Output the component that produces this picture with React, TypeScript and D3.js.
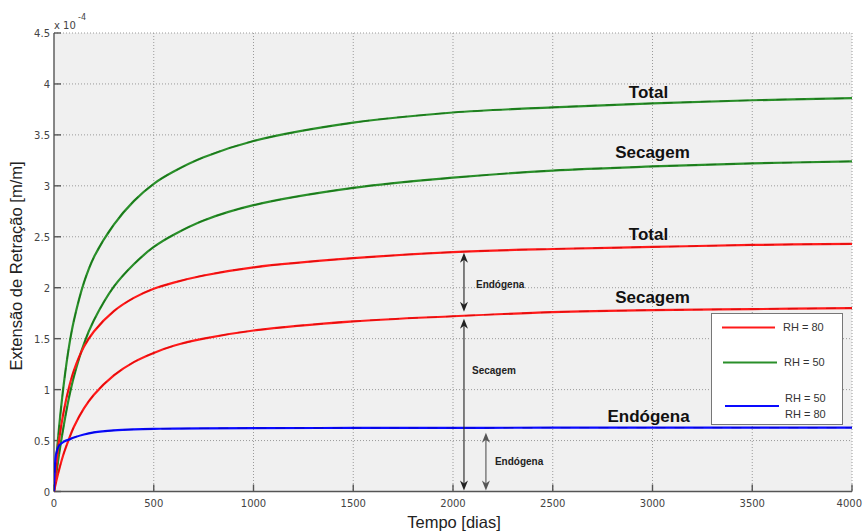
import React from "react";
import * as d3 from "d3";

// Shrinkage strain (×10⁻⁴ m/m) against time in days
const days = [0, 5, 10, 25, 50, 75, 100, 150, 200, 300, 400, 500, 600, 750, 1000, 1500, 2000, 2500, 3000, 3500, 4000];
const totalRH50 = [0, 0.15, 0.28, 0.62, 1.07, 1.42, 1.68, 2.05, 2.3, 2.62, 2.85, 3.02, 3.14, 3.28, 3.44, 3.62, 3.72, 3.77, 3.81, 3.84, 3.86];
const dryingRH50 = [0, 0.08, 0.15, 0.36, 0.66, 0.92, 1.13, 1.45, 1.68, 2.01, 2.23, 2.4, 2.52, 2.66, 2.81, 2.98, 3.08, 3.15, 3.19, 3.22, 3.24];
const totalRH80 = [0, 0.12, 0.22, 0.5, 0.8, 1.02, 1.19, 1.42, 1.57, 1.77, 1.9, 1.99, 2.05, 2.12, 2.2, 2.29, 2.35, 2.38, 2.4, 2.42, 2.43];
const dryingRH80 = [0, 0.045, 0.09, 0.21, 0.38, 0.515, 0.635, 0.815, 0.95, 1.14, 1.27, 1.36, 1.43, 1.5, 1.58, 1.67, 1.72, 1.76, 1.78, 1.79, 1.8];
const autogenous = [0, 0.26, 0.36, 0.45, 0.49, 0.51, 0.53, 0.56, 0.58, 0.6, 0.61, 0.615, 0.617, 0.62, 0.622, 0.624, 0.625, 0.626, 0.626, 0.627, 0.627];

const xTicks = [0, 500, 1000, 1500, 2000, 2500, 3000, 3500, 4000];
const yTicks = [0, 0.5, 1, 1.5, 2, 2.5, 3, 3.5, 4, 4.5];

const legendLabels = [["RH = 80"], ["RH = 50"], ["RH = 50", "RH = 80"]];

const W = 863;
const H = 531;
const RED = "#ff1a1a";
const RED_DARK = "#cc0000";
const GREEN = "#2a8f2a";
const GREEN_DARK = "#0b650b";
const BLUE = "#0a0aff";
const BLUE_DARK = "#0000c0";

const x = d3.scaleLinear().domain([0, 4000]).range([54, 852]);
const y = d3.scaleLinear().domain([0, 4.5]).range([491.5, 33]);

const line = d3
  .line<number>()
  .x((_, i) => x(days[i]))
  .y((v) => y(v))
  .curve(d3.curveCatmullRom.alpha(0.5));

const valueAt = (series: number[], day: number) => {
  const i = d3.bisectRight(days, day) - 1;
  if (i >= days.length - 1) return series[series.length - 1];
  const t = (day - days[i]) / (days[i + 1] - days[i]);
  return series[i] + t * (series[i + 1] - series[i]);
};

const series = [
  { values: totalRH50, color: GREEN, dark: GREEN_DARK },
  { values: dryingRH50, color: GREEN, dark: GREEN_DARK },
  { values: totalRH80, color: RED, dark: RED_DARK },
  { values: dryingRH80, color: RED, dark: RED_DARK },
  { values: autogenous, color: BLUE, dark: BLUE_DARK },
];

const curveLabels = [
  { text: "Total", values: totalRH50, day: 2980, dy: -5 },
  { text: "Secagem", values: dryingRH50, day: 3000, dy: -8 },
  { text: "Total", values: totalRH80, day: 2980, dy: -7 },
  { text: "Secagem", values: dryingRH80, day: 3000, dy: -7 },
  { text: "Endógena", values: autogenous, day: 2980, dy: -6 },
];

function Arrow({ x0, y0, y1, color }: { x0: number; y0: number; y1: number; color: string }) {
  const head = (tipY: number, dir: number) => {
    const len = 10;
    const hw = 4;
    const back = tipY + dir * len;
    const notch = tipY + dir * (len - 3);
    return `M${x0},${tipY} L${x0 - hw},${back} L${x0},${notch} L${x0 + hw},${back} Z`;
  };
  return (
    <g>
      <line x1={x0} x2={x0} y1={y0 + 4} y2={y1 - 4} stroke={color} strokeWidth={1.1} />
      <path d={head(y0, 1)} fill={color} />
      <path d={head(y1, -1)} fill={color} />
    </g>
  );
}

export default function App() {
  const [x0, x1] = x.range();
  const [yb, yt] = y.range();
  const arrowDay1 = 2055;
  const arrowDay2 = 2165;
  const yRedTotal = y(valueAt(totalRH80, arrowDay1));
  const yRedDry = y(valueAt(dryingRH80, arrowDay1));
  const yAuto = y(valueAt(autogenous, arrowDay2));

  return (
    <svg
      width={W}
      height={H}
      style={{ position: "absolute", left: 0, top: 0, background: "#fff" }}
      fontFamily="'Liberation Sans', Arial, sans-serif"
    >
      <defs>
        <clipPath id="plot">
          <rect x={x0} y={yt} width={x1 - x0} height={yb - yt} />
        </clipPath>
      </defs>
      <rect x={x0} y={yt} width={x1 - x0} height={yb - yt} fill="#f0f0f0" />

      {/* grid */}
      <g stroke="#9a9a9a" strokeWidth={1} strokeDasharray="1,2">
        {xTicks.filter((t) => t > 0).map((t) => (
          <line key={"gx" + t} x1={x(t)} x2={x(t)} y1={yt} y2={yb} />
        ))}
        {yTicks.filter((t) => t > 0).map((t) => (
          <line key={"gy" + t} x1={x0} x2={x1} y1={y(t)} y2={y(t)} />
        ))}
      </g>

      {/* axes */}
      <g stroke="#555" strokeWidth={1.4}>
        <line x1={x0} x2={x0} y1={yt} y2={yb} />
        <line x1={x0} x2={x1} y1={yb} y2={yb} />
        {xTicks.map((t) => (
          <line key={"tx" + t} x1={x(t)} x2={x(t)} y1={yb} y2={yb - 7} />
        ))}
        {yTicks.map((t) => (
          <line key={"ty" + t} x1={x0} x2={x0 + 7} y1={y(t)} y2={y(t)} />
        ))}
      </g>
      <g fontFamily="'DejaVu Sans', Verdana, sans-serif" fontSize={10} fill="#444">
        {xTicks.map((t, i) => {
          const last = i === xTicks.length - 1;
          return (
            <text
              key={"lx" + t}
              x={last ? W - 1 : x(t)}
              y={yb + 15}
              textAnchor={last ? "end" : "middle"}
            >
              {t}
            </text>
          );
        })}
        {yTicks.map((t) => (
          <text key={"ly" + t} x={x0 - 4} y={y(t) + 4} textAnchor="end">
            {String(t)}
          </text>
        ))}
        <text x={x0} y={29}>x 10</text>
        <text x={78} y={20} fontSize={8}>-4</text>
      </g>

      {/* curves */}
      <g clipPath="url(#plot)" fill="none">
        {series.map((s, i) => (
          <g key={"s" + i}>
            <path d={line(s.values) || ""} stroke={s.color} strokeWidth={2.2} />
            <path
              d={line(s.values) || ""}
              stroke={s.dark}
              strokeWidth={1.3}
              strokeDasharray="10,9"
              opacity={0.55}
            />
          </g>
        ))}
      </g>

      {/* curve labels */}
      <g fontWeight="bold" fontSize={17} fill="#111" textAnchor="middle">
        {curveLabels.map((l, i) => (
          <text key={"cl" + i} x={x(l.day)} y={y(valueAt(l.values, l.day)) + l.dy}>
            {l.text}
          </text>
        ))}
      </g>

      {/* component arrows */}
      <Arrow x0={x(arrowDay1)} y0={yRedTotal + 1} y1={yRedDry - 4} color="#222" />
      <Arrow x0={x(arrowDay1)} y0={yRedDry + 3} y1={yb - 1} color="#222" />
      <Arrow x0={x(arrowDay2)} y0={yAuto + 5} y1={yb - 1} color="#555" />
      <g fontWeight="bold" fontSize={10} fill="#222">
        <text x={x(arrowDay1) + 12} y={(yRedTotal + yRedDry) / 2 + 4}>Endógena</text>
        <text x={x(arrowDay1) + 8} y={374}>Secagem</text>
        <text x={x(arrowDay2) + 9} y={465}>Endógena</text>
      </g>

      {/* legend */}
      <g>
        <rect x={711.5} y={313.5} width={131} height={111} fill="#fff" stroke="#777" strokeWidth={1} />
        <line x1={722} x2={775} y1={327.5} y2={327.5} stroke={RED} strokeWidth={2} />
        <line x1={723} x2={777} y1={362.5} y2={362.5} stroke={GREEN} strokeWidth={2} />
        <line x1={725} x2={779} y1={406} y2={406} stroke={BLUE} strokeWidth={2} />
        <g fontSize={11} fill="#333">
          <text x={783} y={331}>{legendLabels[0][0]}</text>
          <text x={784} y={366}>{legendLabels[1][0]}</text>
          <text x={785} y={402}>{legendLabels[2][0]}</text>
          <text x={785} y={418}>{legendLabels[2][1]}</text>
        </g>
      </g>

      {/* axis titles */}
      <text x={454} y={528} textAnchor="middle" fontSize={16.5} fill="#222">
        Tempo [dias]
      </text>
      <text
        transform={`translate(22,266) rotate(-90)`}
        textAnchor="middle"
        fontSize={16.5}
        fill="#222"
      >
        Extensão de Retração [m/m]
      </text>
    </svg>
  );
}
